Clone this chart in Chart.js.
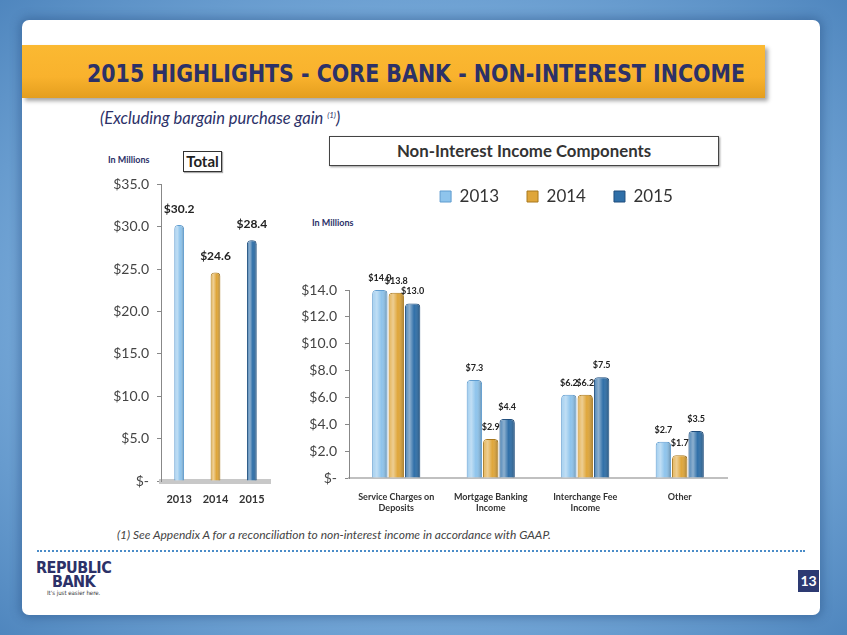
<!DOCTYPE html>
<html>
<head>
<meta charset="utf-8">
<script src="https://cdn.jsdelivr.net/npm/chart.js@4.4.1/dist/chart.umd.min.js"></script>
<style>
  html, body { margin: 0; padding: 0; }
  body {
    width: 847px; height: 635px; position: relative; overflow: hidden;
    background: radial-gradient(ellipse at center, #9cc6ea 0%, #7fb0de 55%, #4f86be 100%);
    font-family: Lato, "Open Sans", sans-serif;
  }
  #panel {
    position: absolute; left: 22px; top: 20px; width: 798px; height: 595px;
    background: #fff; border-radius: 7px;
    box-shadow: 0 0 10px 3px rgba(40, 80, 130, 0.45);
  }
  #banner {
    position: absolute; left: 22px; top: 45px; width: 743px; height: 53px;
    background: linear-gradient(#fbb932 0%, #f9b22d 60%, #e49e1e 100%);
    box-shadow: 3px 3px 4px rgba(0,0,0,0.35);
  }
  #title {
    position: absolute; left: 87px; top: 59px; white-space: nowrap;
    font-family: "DejaVu Sans Condensed", sans-serif;
    font-weight: bold; font-size: 25px; color: #2c3168; transform-origin: 0 0;
  }
  #subtitle {
    position: absolute; left: 100px; top: 108px; font-style: italic;
    font-size: 16.5px; color: #2c3168;
  }
  #subtitle sup { font-size: 8px; }
  .small { position: absolute; font-size: 9px; font-weight: bold; color: #2c3168; }
  #totalBox {
    position: absolute; left: 183px; top: 151px; width: 37px; height: 19px;
    border: 1px solid #333; font-weight: bold; font-size: 15px; color: #222;
    text-align: center; line-height: 19px; box-shadow: 1px 1px 1px #aaa;
  }
  #compBox {
    position: absolute; left: 329px; top: 136px; width: 388px; height: 28px;
    border: 1.5px solid #444; font-weight: bold; font-size: 16.8px; color: #333;
    text-align: center; line-height: 28px; box-shadow: 1px 1px 2px #999;
  }
  #note {
    position: absolute; left: 117px; top: 527px; font-style: italic;
    font-size: 12px; color: #444;
  }
  #dots {
    position: absolute; left: 37px; top: 550px; width: 768px;
    border-top: 2px dotted #4a8cc8;
  }
  #logo {
    position: absolute; left: 36px; top: 561px; color: #2c3168; text-align: center;
    font-family: "DejaVu Sans Condensed", sans-serif;
    font-weight: bold; line-height: 14px; font-size: 16px; letter-spacing: -0.5px;
  }
  #logo .tag { font-size: 6px; font-weight: normal; line-height: 8px; color: #333; letter-spacing: 0; }
  #page {
    position: absolute; left: 798px; top: 570px; width: 21px; height: 22px;
    background: #2d3a72; color: #fff; font-weight: bold; font-size: 14px;
    text-align: center; line-height: 22px;
  }
  #totalWrap { position: absolute; left: 111px; top: 168px; width: 165px; height: 337px; }
  #compWrap { position: absolute; left: 290px; top: 160px; width: 445px; height: 358px; }
</style>
</head>
<body>
<div id="panel"></div>
<div id="banner"></div>
<div id="title">2015 HIGHLIGHTS - CORE BANK - NON-INTEREST INCOME</div>
<div id="subtitle">(Excluding bargain purchase gain <sup>(1)</sup>)</div>
<div class="small" style="left:108px;top:154px;">In Millions</div>
<div id="totalBox">Total</div>
<div id="compBox">Non-Interest Income Components</div>
<div class="small" style="left:312px;top:217px;">In Millions</div>
<div id="totalWrap"><canvas id="totalChart"></canvas></div>
<div id="compWrap"><canvas id="compChart"></canvas></div>
<div id="note">(1) See Appendix A for a reconciliation to non-interest income in accordance with GAAP.</div>
<div id="dots"></div>
<div id="logo">REPUBLIC<br>BANK<div class="tag">It's just easier here.</div></div>
<div id="page">13</div>

<script>
// data (in millions)
const years = ["2013", "2014", "2015"];
const totals = [30.2, 24.6, 28.4];

const components = [["Service Charges on", "Deposits"], ["Mortgage Banking", "Income"], ["Interchange Fee", "Income"], "Other"];
const values2013 = [14.0, 7.3, 6.2, 2.7];
const values2014 = [13.8, 2.9, 6.2, 1.7];
const values2015 = [13.0, 4.4, 7.5, 3.5];

const yearColors = ["#8ec4ec", "#dfa63a", "#2f6fa8"];
const yearBorders = ["#5f9ccf", "#a9781c", "#1f4d7c"];

// squeeze the title into the banner
const titleEl = document.getElementById("title");
titleEl.style.transform = "scaleX(" + (658 / titleEl.scrollWidth) + ")";

const money = (v) => (v === 0 ? "$-" : "$" + v.toFixed(1));

// cylinder-ish shading on top of each bar
const shadePlugin = {
  id: "shade",
  afterDatasetsDraw(chart) {
    const ctx = chart.ctx;
    chart.data.datasets.forEach((ds, i) => {
      chart.getDatasetMeta(i).data.forEach((bar) => {
        const p = bar.getProps(["x", "y", "base", "width"], true);
        if (!p.width) return;
        const l = p.x - p.width / 2;
        const g = ctx.createLinearGradient(l, 0, l + p.width, 0);
        g.addColorStop(0, "rgba(255,255,255,0.15)");
        g.addColorStop(0.3, "rgba(255,255,255,0.45)");
        g.addColorStop(0.6, "rgba(255,255,255,0)");
        g.addColorStop(1, "rgba(0,0,0,0.3)");
        ctx.save();
        ctx.fillStyle = g;
        ctx.fillRect(l + 1, p.y + 1, p.width - 2, p.base - p.y - 1);
        ctx.restore();
      });
    });
  }
};

const labelPlugin = {
  id: "valueLabels",
  afterDatasetsDraw(chart, args, opts) {
    const ctx = chart.ctx;
    ctx.save();
    ctx.font = "bold " + opts.size + "px Lato, sans-serif";
    ctx.fillStyle = "#222";
    ctx.textAlign = "center";
    ctx.textBaseline = "middle";
    chart.data.datasets.forEach((ds, i) => {
      chart.getDatasetMeta(i).data.forEach((bar, j) => {
        ctx.fillText(money(ds.data[j]), bar.x, bar.y - opts.offset);
      });
    });
    ctx.restore();
  }
};

new Chart(document.getElementById("totalChart"), {
  type: "bar",
  data: {
    labels: years,
    datasets: [{
      data: totals,
      backgroundColor: yearColors,
      borderColor: yearBorders,
      borderWidth: 1,
      borderRadius: { topLeft: 4, topRight: 4 },
      borderSkipped: "bottom",
      barPercentage: 0.27,
      categoryPercentage: 1
    }]
  },
  options: {
    responsive: true,
    maintainAspectRatio: false,
    animation: false,
    layout: { padding: { top: 8, right: 6, left: 0, bottom: 0 } },
    plugins: {
      legend: { display: false },
      tooltip: { enabled: false },
      valueLabels: { size: 12, offset: 16 }
    },
    scales: {
      x: {
        grid: { display: false },
        border: { color: "#c8c8c8", width: 5 },
        ticks: { color: "#333", font: { family: "Lato", size: 11, weight: "bold" }, padding: 4 },
        afterFit: (s) => { s.height = 24; }
      },
      y: {
        min: 0, max: 35,
        grid: { drawOnChartArea: false, tickLength: 4, color: "#888" },
        border: { color: "#888" },
        ticks: { stepSize: 5, color: "#444", font: { family: "Lato", size: 14 }, padding: 8, callback: (v) => money(v) },
        afterFit: (s) => { s.width = 50; }
      }
    }
  },
  plugins: [shadePlugin, labelPlugin]
});

const legendGap = {
  id: "legendGap",
  afterInit(chart) {
    const fit = chart.legend.fit;
    chart.legend.fit = function () {
      fit.call(this);
      this.height += 75;
    };
  },
  afterLayout(chart) {
    chart.legend.left += 48;
    chart.legend.right += 48;
  }
};

new Chart(document.getElementById("compChart"), {
  type: "bar",
  data: {
    labels: components,
    datasets: [values2013, values2014, values2015].map((vals, i) => ({
      label: years[i],
      data: vals,
      backgroundColor: yearColors[i],
      borderColor: yearBorders[i],
      borderWidth: 1,
      borderRadius: { topLeft: 4, topRight: 4 },
      borderSkipped: "bottom",
      barPercentage: 0.94,
      categoryPercentage: 0.52
    }))
  },
  options: {
    responsive: true,
    maintainAspectRatio: false,
    animation: false,
    layout: { padding: { top: 0, right: 8, left: 0, bottom: 0 } },
    plugins: {
      legend: {
        position: "top",
        labels: {
          boxWidth: 11, boxHeight: 11, padding: 28, color: "#333",
          font: { family: "Lato", size: 17 }
        }
      },
      tooltip: { enabled: false },
      valueLabels: { size: 9, offset: 12 }
    },
    scales: {
      x: {
        grid: { display: false },
        border: { color: "#c0c0c0", width: 2 },
        ticks: { color: "#333", font: { family: "Lato", size: 9, weight: "bold" }, padding: 6, maxRotation: 0 },
        afterFit: (s) => { s.height = 40; }
      },
      y: {
        min: 0, max: 14,
        grid: { drawOnChartArea: false, tickLength: 4, color: "#888" },
        border: { color: "#888" },
        ticks: { stepSize: 2, color: "#444", font: { family: "Lato", size: 14 }, padding: 8, callback: (v) => money(v) },
        afterFit: (s) => { s.width = 59; }
      }
    }
  },
  plugins: [legendGap, shadePlugin, labelPlugin]
});
</script>
</body>
</html>
